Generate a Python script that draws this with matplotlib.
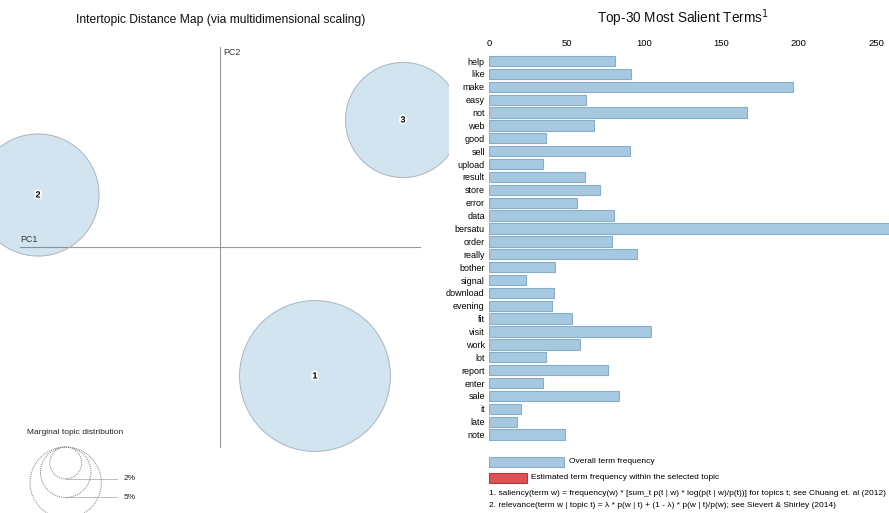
"""
LDAvis-style topic overview: intertopic distance map and salient terms.
"""

import numpy as np
import matplotlib.pyplot as plt
from matplotlib.patches import Circle, Rectangle
import matplotlib.patheffects as pe

plt.rcParams["font.family"] = ["Liberation Sans", "DejaVu Sans"]

# topic positions (principal components) and marginal share in %
topic_ids = ["1", "2", "3"]
topic_pc1 = [0.095, -0.182, 0.183]
topic_pc2 = [-0.129, 0.052, 0.127]
topic_freq = [44.7, 29.3, 26.0]

legend_pcts = [2, 5, 10]

# top-30 salient terms, overall frequency
terms = [
    "help", "like", "make", "easy", "not", "web", "good", "sell",
    "upload", "result", "store", "error", "data", "bersatu", "order",
    "really", "bother", "signal", "download", "evening", "fit", "visit",
    "work", "lot", "report", "enter", "sale", "it", "late", "note",
]
term_freq = [
    81.6, 91.9, 196.2, 62.8, 166.3, 67.7, 37.0, 90.8,
    34.8, 61.8, 71.9, 56.8, 80.7, 262.0, 79.6,
    95.8, 42.8, 23.7, 41.8, 40.9, 53.8, 104.5,
    58.7, 37.0, 76.6, 34.8, 83.7, 20.9, 17.9, 48.8,
]
freq_ticks = [0, 50, 100, 150, 200, 250]

BAR_FACE = "#a6c8e0"
BAR_EDGE = "#86aecb"

W, H = 889, 513
fig = plt.figure(figsize=(W / 100, H / 100), dpi=100)


def px_axes(left, top, right, bottom):
    return fig.add_axes(
        [left / W, 1 - bottom / H, (right - left) / W, (bottom - top) / H]
    )


# ---- left panel: intertopic distance map ----
mds_span = 0.2  # domain is [-0.2, 0.2] on both PCs
px_per_unit = 1000.0
origin_x, origin_y = 220, 247

ax_mds = px_axes(0, 30, 449, 513)
ax_mds.set_xlim(
    (0 - origin_x) / px_per_unit,
    (449 - origin_x) / px_per_unit,
)
ax_mds.set_ylim(
    (origin_y - 513) / px_per_unit,
    (origin_y - 30) / px_per_unit,
)
ax_mds.axis("off")

ax_mds.plot(
    [-mds_span, mds_span], [0, 0],
    color="#9a9a9a", lw=0.8, zorder=1,
)
ax_mds.plot(
    [0, 0], [-mds_span, mds_span],
    color="#9a9a9a", lw=0.8, zorder=1,
)
ax_mds.text(
    -mds_span, 0.003, "PC1",
    fontsize=6.4, color="#333333", ha="left", va="bottom",
)
ax_mds.text(
    0.003, mds_span - 0.001, "PC2",
    fontsize=6.4, color="#333333", ha="left", va="top",
)

# circle area follows LDAvis: share * plot area * 0.25 / pi
circle_prop = 0.25
mds_area = (2 * mds_span) ** 2


def radius(pct):
    return np.sqrt(pct / 100 * mds_area * circle_prop / np.pi)


for tid, x, y, f in zip(topic_ids, topic_pc1, topic_pc2, topic_freq):
    ax_mds.add_patch(
        Circle(
            (x, y), radius(f),
            facecolor=(0.12, 0.47, 0.71, 0.2), edgecolor="#a9b4bd",
            lw=0.7, zorder=2,
        )
    )
    ax_mds.text(
        x, y, tid,
        fontsize=6.5, fontweight="bold", color="black",
        ha="center", va="center", zorder=3,
        path_effects=[pe.withStroke(linewidth=2.5, foreground="white")],
    )

# marginal topic distribution guide
r_big = radius(legend_pcts[-1])
guide_cx = -mds_span + (10 / px_per_unit) + r_big
guide_top = -mds_span
guide_x2 = guide_cx + 1.45 * r_big

ax_mds.text(
    -0.193, -0.186, "Marginal topic distribution",
    fontsize=6.0, color="#222222", ha="left", va="center",
)
for pct in legend_pcts:
    r = radius(pct)
    ax_mds.add_patch(
        Circle(
            (guide_cx, guide_top - r), r,
            facecolor="none", edgecolor="#7f7f7f",
            lw=0.7, linestyle=(0, (1, 1)), zorder=2,
        )
    )
    ax_mds.plot(
        [guide_cx, guide_x2], [guide_top - 2 * r] * 2,
        color="#bdbdbd", lw=0.7, zorder=1,
    )
    # the 10% label falls below the visible area
    if guide_top - 2 * r > (origin_y - 505) / px_per_unit:
        ax_mds.text(
            guide_x2 + 0.006, guide_top - 2 * r, f"{pct}%",
            fontsize=6.0, color="#222222", ha="left", va="center",
        )

fig.text(
    221 / W, 1 - 20 / H,
    "Intertopic Distance Map (via multidimensional scaling)",
    fontsize=8.7, ha="center", va="center", color="#111111",
)

# ---- right panel: top-30 salient terms ----
bar_px = 387.4 / 250
ax_bar = px_axes(489, 54.6, 889, 441)
rows = np.arange(len(terms))

ax_bar.barh(
    rows, term_freq, height=0.8,
    color=BAR_FACE, edgecolor=BAR_EDGE, linewidth=0.8,
)
ax_bar.set_xlim(0, 400 / bar_px)
ax_bar.set_ylim(len(terms) - 0.5, -0.5)
ax_bar.set_yticks(rows)
ax_bar.set_yticklabels(terms, fontsize=6.5)
ax_bar.set_xticks(freq_ticks)
ax_bar.xaxis.tick_top()
ax_bar.tick_params(axis="x", length=0, pad=5, labelsize=6.8)
ax_bar.tick_params(axis="y", length=0, pad=3)
for side in ax_bar.spines.values():
    side.set_visible(False)

fig.text(
    683 / W, 1 - 18 / H,
    "Top-30 Most Salient Terms$^1$",
    fontsize=9.8, ha="center", va="center", color="#111111",
)

# ---- legend and footnotes ----
ax_leg = px_axes(480, 445, 889, 513)
ax_leg.set_xlim(0, 409)
ax_leg.set_ylim(68, 0)
ax_leg.axis("off")

ax_leg.add_patch(
    Rectangle(
        (9, 11.5), 75, 10.5,
        facecolor=BAR_FACE, edgecolor=BAR_EDGE, lw=0.8,
    )
)
ax_leg.text(
    89, 16.5, "Overall term frequency",
    fontsize=6.0, ha="left", va="center",
)
ax_leg.add_patch(
    Rectangle(
        (9, 28), 37.5, 10,
        facecolor="#d62728", alpha=0.8, edgecolor="#a51c1c", lw=0.8,
    )
)
ax_leg.text(
    51, 32.5, "Estimated term frequency within the selected topic",
    fontsize=6.0, ha="left", va="center",
)
ax_leg.text(
    9, 48.5,
    "1. saliency(term w) = frequency(w) * [sum_t p(t | w) * "
    "log(p(t | w)/p(t))] for topics t; see Chuang et. al (2012)",
    fontsize=6.0, ha="left", va="center",
)
ax_leg.text(
    9, 60.5,
    "2. relevance(term w | topic t) = \u03bb * p(w | t) + "
    "(1 - \u03bb) * p(w | t)/p(w); see Sievert & Shirley (2014)",
    fontsize=6.0, ha="left", va="center",
)

fig.savefig("out.png", dpi=100)
